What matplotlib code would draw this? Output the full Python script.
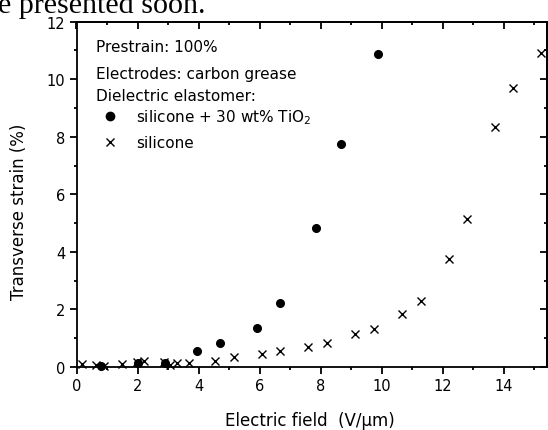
import numpy as np
import matplotlib
matplotlib.use('Agg')
import matplotlib.pyplot as plt
from matplotlib.ticker import MultipleLocator
from matplotlib.lines import Line2D

# silicone + 30 wt% TiO2
tio2_field = [0.8, 2.0, 2.9, 3.95, 4.7, 5.9, 6.65, 7.85, 8.66, 9.86]
tio2_strain = [0.05, 0.15, 0.15, 0.56, 0.82, 1.35, 2.21, 4.83, 7.75, 10.87]

# pure silicone
sil_field = [0.17, 0.65, 0.9, 1.48, 1.97, 2.2, 2.85, 3.05, 3.3, 3.7, 4.54,
             5.17, 6.07, 6.67, 7.57, 8.2, 9.13, 9.73, 10.66, 11.28, 12.21,
             12.79, 13.72, 14.29, 15.2]
sil_strain = [0.1, 0.08, 0.05, 0.1, 0.16, 0.22, 0.16, 0.07, 0.15, 0.15, 0.22,
              0.34, 0.45, 0.57, 0.69, 0.83, 1.15, 1.32, 1.85, 2.31, 3.76,
              5.16, 8.35, 9.69, 10.9]

W, H = 548, 431
fig = plt.figure(figsize=(W / 100, H / 100), dpi=100)
# axes box in pixels: left 76.5, right 546.7, top 22.7, bottom 368
ax = fig.add_axes([76.5 / W, (H - 368) / H, (546.7 - 76.5) / W, (368 - 22.7) / H])

ax.plot(tio2_field, tio2_strain, 'o', color='black', markersize=5.5,
        linestyle='none', clip_on=False)
ax.plot(sil_field, sil_strain, 'x', color='black', markersize=5.5,
        markeredgewidth=1.0, linestyle='none', clip_on=False)

ax.set_xlim(0, 15.4)
ax.set_ylim(0, 12)
ax.xaxis.set_major_locator(MultipleLocator(2))
ax.xaxis.set_minor_locator(MultipleLocator(1))
ax.yaxis.set_major_locator(MultipleLocator(2))
ax.yaxis.set_minor_locator(MultipleLocator(1))
ax.tick_params(which='both', direction='out', width=1.3, labelsize=10.5,
               pad=3)
ax.tick_params(which='major', length=5)
ax.tick_params(which='minor', length=2.5)
for sp in ax.spines.values():
    sp.set_linewidth(1.3)

# inward ticks on top and right
top = ax.secondary_xaxis('top')
top.xaxis.set_major_locator(MultipleLocator(2))
top.xaxis.set_minor_locator(MultipleLocator(1))
top.tick_params(which='both', direction='in', width=1.3, labeltop=False)
top.tick_params(which='major', length=5)
top.tick_params(which='minor', length=2.5)
top.spines['top'].set_linewidth(1.3)
right = ax.secondary_yaxis('right')
right.yaxis.set_major_locator(MultipleLocator(2))
right.yaxis.set_minor_locator(MultipleLocator(1))
right.tick_params(which='both', direction='in', width=1.3, labelright=False)
right.tick_params(which='major', length=5)
right.tick_params(which='minor', length=2.5)
right.spines['right'].set_linewidth(1.3)

ax.set_xlabel('Electric field  (V/\u03bcm)', fontsize=12)
ax.set_ylabel('Transverse strain (%)', fontsize=12)
ax.xaxis.set_label_coords((310 - 76.5) / 470.2, (368 - 412) / 345.3)
ax.yaxis.set_label_coords((28 - 76.5) / 470.2, (368 - 212) / 345.3)

# notes in the upper left
fig.text(96 / W, 1 - 48 / H, 'Prestrain: 100%', fontsize=11, va='center')
fig.text(96 / W, 1 - 74 / H, 'Electrodes: carbon grease', fontsize=11,
         va='center')
fig.text(96 / W, 1 - 97 / H, 'Dielectric elastomer:', fontsize=11,
         va='center')

handles = [Line2D([], [], marker='o', color='black', linestyle='none',
                  markersize=6),
           Line2D([], [], marker='x', color='black', linestyle='none',
                  markersize=5.5, markeredgewidth=1.0)]
labels = ['silicone + 30 wt% TiO$_2$', 'silicone']
fig.legend(handles, labels, loc='upper left',
           bbox_to_anchor=(102 / W, 1 - 108 / H), frameon=False, fontsize=11,
           handlelength=1.0, handletextpad=1.25, borderpad=0, borderaxespad=0,
           labelspacing=0.62)

# clipped line of the surrounding document
fig.text(-2 / W, 1 - 12.7 / H, 'e presented soon.', family='Liberation Serif',
         fontsize=21.6, va='baseline')

fig.savefig('out.png', dpi=100)
